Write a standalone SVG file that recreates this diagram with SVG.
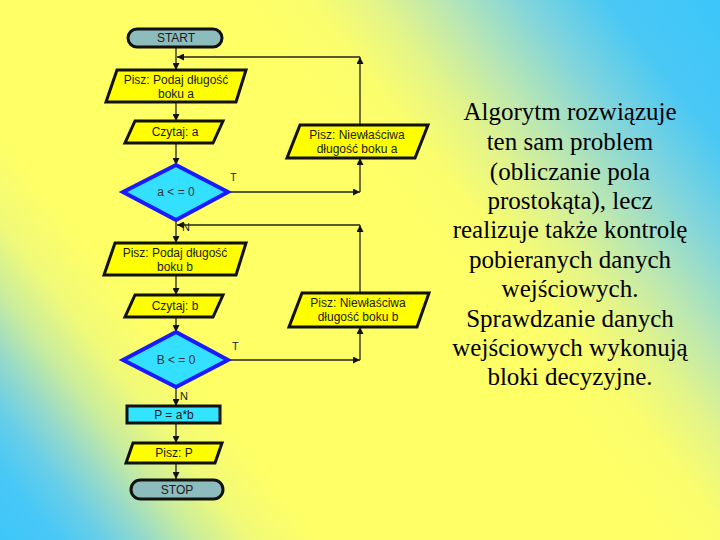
<svg xmlns="http://www.w3.org/2000/svg" width="720" height="540" viewBox="0 0 720 540">
<defs>
<linearGradient id="bg" gradientUnits="userSpaceOnUse" x1="720" y1="0" x2="13" y2="557">
<stop offset="0" stop-color="#3cc6fa"/>
<stop offset="0.1" stop-color="#4ac8f4"/>
<stop offset="0.17" stop-color="#80d4dc"/>
<stop offset="0.24" stop-color="#b8e6b4"/>
<stop offset="0.3" stop-color="#e2f48a"/>
<stop offset="0.36" stop-color="#fafd6c"/>
<stop offset="0.42" stop-color="#ffff66"/>
<stop offset="0.72" stop-color="#ffff66"/>
<stop offset="0.78" stop-color="#f0fa78"/>
<stop offset="0.83" stop-color="#c8ec9e"/>
<stop offset="0.87" stop-color="#98dac8"/>
<stop offset="0.91" stop-color="#68cee8"/>
<stop offset="0.95" stop-color="#48c8f6"/>
<stop offset="1" stop-color="#3ec6fa"/>
</linearGradient>
<marker id="ah" viewBox="0 0 10 10" refX="10" refY="5" markerWidth="7" markerHeight="7" markerUnits="userSpaceOnUse" orient="auto">
<path d="M0,0 L10,5 L0,10 z" fill="#111"/>
</marker>
</defs>
<style>
.io{fill:#ffff00;stroke:#111;stroke-width:3;stroke-linejoin:miter}
.term{fill:#8cbcbc;stroke:#111;stroke-width:3}
.dec{fill:#33e0ff;stroke:#1a1aff;stroke-width:4;stroke-linejoin:miter}
.proc{fill:#33e4ff;stroke:#111;stroke-width:3}
.t{font-family:"Liberation Sans",Arial,sans-serif;font-size:12px;fill:#1a1a1a;text-anchor:middle}
.td{font-family:"Liberation Sans",Arial,sans-serif;font-size:12px;fill:#333;text-anchor:middle}
.lbl{font-family:"Liberation Sans",Arial,sans-serif;font-size:11px;fill:#222}
.c{stroke:#222;stroke-width:1.3;fill:none;marker-end:url(#ah)}
.body{font-family:"Liberation Serif","Times New Roman",serif;font-size:25px;fill:#000;text-anchor:middle}
</style>
<rect x="0" y="0" width="720" height="540" fill="url(#bg)"/>

<g id="connectors">
<line class="c" x1="176" y1="47" x2="176" y2="70"/>
<line class="c" x1="176" y1="102" x2="176" y2="121"/>
<line class="c" x1="176" y1="143" x2="176" y2="165"/>
<line class="c" x1="176" y1="220" x2="176" y2="243"/>
<line class="c" x1="176" y1="275" x2="176" y2="295"/>
<line class="c" x1="176" y1="317" x2="176" y2="332"/>
<line class="c" x1="176" y1="387" x2="176" y2="406"/>
<line class="c" x1="176" y1="423" x2="176" y2="443"/>
<line class="c" x1="176" y1="463" x2="176" y2="479"/>
<line class="c" x1="228" y1="192" x2="360" y2="192"/>
<line class="c" x1="360" y1="192" x2="360" y2="158"/>
<line class="c" x1="360" y1="125" x2="360" y2="57"/>
<line class="c" x1="360" y1="57" x2="177" y2="57"/>
<line class="c" x1="228" y1="360" x2="360" y2="360"/>
<line class="c" x1="360" y1="360" x2="360" y2="327"/>
<line class="c" x1="360" y1="293" x2="360" y2="225"/>
<line class="c" x1="360" y1="225" x2="177" y2="225"/>
<text class="lbl" x="230" y="181">T</text>
<text class="lbl" x="182" y="231">N</text>
<text class="lbl" x="232" y="350">T</text>
<text class="lbl" x="180" y="400">N</text>
</g>

<g id="start">
<rect class="term" x="128" y="29" width="94" height="18" rx="9"/>
<text class="t" x="176" y="42">START</text>
</g>

<g id="pisz-a">
<polygon class="io" points="117,70 246,70 236,102 106,102"/>
<text class="t" x="176" y="84">Pisz: Podaj długość</text>
<text class="t" x="176" y="98">boku a</text>
</g>

<g id="czytaj-a">
<polygon class="io" points="135,121 223,121 213,143 125,143"/>
<text class="t" x="175" y="136">Czytaj: a</text>
</g>

<g id="dec-a">
<polygon class="dec" points="176,165 228,192 176,220 123,192"/>
<text class="td" x="176" y="196">a &lt; = 0</text>
</g>

<g id="err-a">
<polygon class="io" points="300,125 428,125 415,158 287,158"/>
<text class="t" x="357" y="139">Pisz: Niewłaściwa</text>
<text class="t" x="357" y="153">długość boku a</text>
</g>

<g id="pisz-b">
<polygon class="io" points="115,243 246,243 236,275 104,275"/>
<text class="t" x="175" y="257">Pisz: Podaj długość</text>
<text class="t" x="175" y="271">boku b</text>
</g>

<g id="czytaj-b">
<polygon class="io" points="135,295 223,295 213,317 125,317"/>
<text class="t" x="175" y="310">Czytaj: b</text>
</g>

<g id="dec-b">
<polygon class="dec" points="176,332 228,360 176,387 123,360"/>
<text class="td" x="176" y="364">B &lt; = 0</text>
</g>

<g id="err-b">
<polygon class="io" points="302,293 429,293 417,327 289,327"/>
<text class="t" x="358" y="307">Pisz: Niewłaściwa</text>
<text class="t" x="358" y="321">długość boku b</text>
</g>

<g id="calc">
<rect class="proc" x="127" y="406" width="93" height="17"/>
<text class="t" x="174" y="419">P  = a*b</text>
</g>

<g id="pisz-p">
<polygon class="io" points="133,443 222,443 215,463 126,463"/>
<text class="t" x="174" y="457">Pisz: P</text>
</g>

<g id="stop">
<rect class="term" x="131" y="480" width="92" height="19" rx="9.5"/>
<text class="t" x="177" y="494">STOP</text>
</g>

<g id="description">
<text class="body" x="570" y="120">Algorytm rozwiązuje</text>
<text class="body" x="570" y="150">ten sam problem</text>
<text class="body" x="570" y="180">(obliczanie pola</text>
<text class="body" x="570" y="209">prostokąta), lecz</text>
<text class="body" x="570" y="238">realizuje także kontrolę</text>
<text class="body" x="570" y="268">pobieranych danych</text>
<text class="body" x="570" y="297">wejściowych.</text>
<text class="body" x="570" y="327">Sprawdzanie danych</text>
<text class="body" x="570" y="356">wejściowych wykonują</text>
<text class="body" x="570" y="385">bloki decyzyjne.</text>
</g>
</svg>
